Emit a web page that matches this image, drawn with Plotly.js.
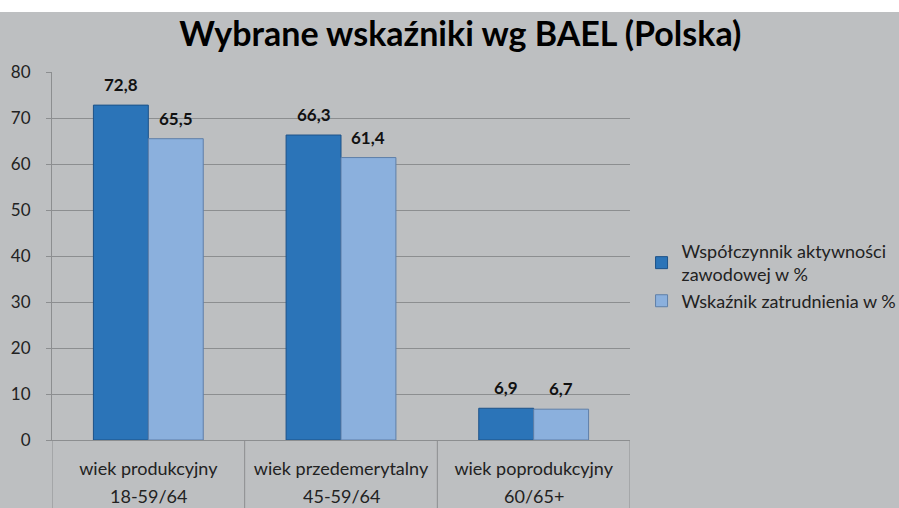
<!DOCTYPE html>
<html>
<head>
<meta charset="utf-8">
<script src="https://cdn.plot.ly/plotly-3.0.1.min.js"></script>
<style>
html,body{margin:0;padding:0;background:#ffffff;}
#chart{position:absolute;left:0;top:12px;width:899px;height:496px;}
</style>
</head>
<body>
<div id="chart"></div>
<script>
var categories = ["wiek produkcyjny", "wiek przedemerytalny", "wiek poprodukcyjny"];
var ageRanges = ["18-59/64", "45-59/64", "60/65+"];
var seriesNames = ["Współczynnik aktywności<br>zawodowej w %", "Wskaźnik zatrudnienia w %"];
var activity = [72.8, 66.3, 6.9];
var employment = [65.5, 61.4, 6.7];
var yTicks = [0, 10, 20, 30, 40, 50, 60, 70, 80];

var fontFam = "Lato, 'Open Sans', sans-serif";
var bargap = 0.43;
var barW = (1 - bargap) / 2;
function fmt(v){ return v.toFixed(1).replace(".", ","); }

var traces = [
  {
    type: "bar", name: seriesNames[0], x: categories, y: activity,
    marker: {color: "#2B74B8", line: {color: "#1D5288", width: 1}}
  },
  {
    type: "bar", name: seriesNames[1], x: categories, y: employment,
    marker: {color: "#8BB0DD", line: {color: "#5F7FA8", width: 1}}
  }
];

var shapes = [];
for (var i = 0; i <= categories.length; i++) {
  shapes.push({type: "line", xref: "x", yref: "paper", x0: i - 0.5, x1: i - 0.5, y0: 0, y1: -0.3,
    line: {color: "#8C8E90", width: 1}});
}

var annotations = ageRanges.map(function(r, i){
  return {xref: "x", yref: "paper", x: i, y: -0.153, yanchor: "middle", text: r, showarrow: false,
    font: {family: fontFam, size: 18, color: "#222222"}};
});
[activity, employment].forEach(function(series, s){
  series.forEach(function(v, i){
    annotations.push({xref: "x", yref: "y", x: i + (s === 0 ? -barW / 2 : barW / 2), y: v,
      yanchor: "bottom", yshift: 8, text: "<b>" + fmt(v) + "</b>", showarrow: false,
      font: {family: fontFam, size: 17, color: "#111111"}});
  });
});

var layout = {
  width: 899, height: 496,
  paper_bgcolor: "#BDBFC1", plot_bgcolor: "#BDBFC1",
  margin: {l: 52, r: 269, t: 60, b: 68, autoexpand: false},
  title: {text: "Wybrane wskaźniki wg BAEL (Polska)", x: 0.512, xanchor: "center", y: 0.955, yanchor: "middle",
    font: {family: fontFam, size: 34, color: "#000000", weight: "bold"}},
  barmode: "group", bargap: bargap, bargroupgap: 0,
  showlegend: true,
  legend: {x: 1.02, xanchor: "left", y: 0.445, yanchor: "middle", bgcolor: "rgba(0,0,0,0)",
    font: {family: fontFam, size: 18, color: "#222222"}, tracegroupgap: 26, itemwidth: 30},
  xaxis: {
    showgrid: false, showline: true, linecolor: "#8C8E90", linewidth: 1,
    ticks: "", tickfont: {family: fontFam, size: 18, color: "#222222"},
    ticklabelstandoff: 12, range: [-0.5, 2.5], fixedrange: true
  },
  yaxis: {
    range: [0, 80], tickvals: yTicks, showgrid: true, gridcolor: "#8C8E90", gridwidth: 1,
    showline: true, linecolor: "#8C8E90", linewidth: 1, ticks: "outside", ticklen: 5, tickcolor: "#8C8E90",
    zeroline: false, tickfont: {family: fontFam, size: 17, color: "#222222"}, ticklabelstandoff: 12
  },
  shapes: shapes,
  annotations: annotations
};

Plotly.newPlot("chart", traces, layout, {displayModeBar: false, staticPlot: true});
</script>
</body>
</html>
